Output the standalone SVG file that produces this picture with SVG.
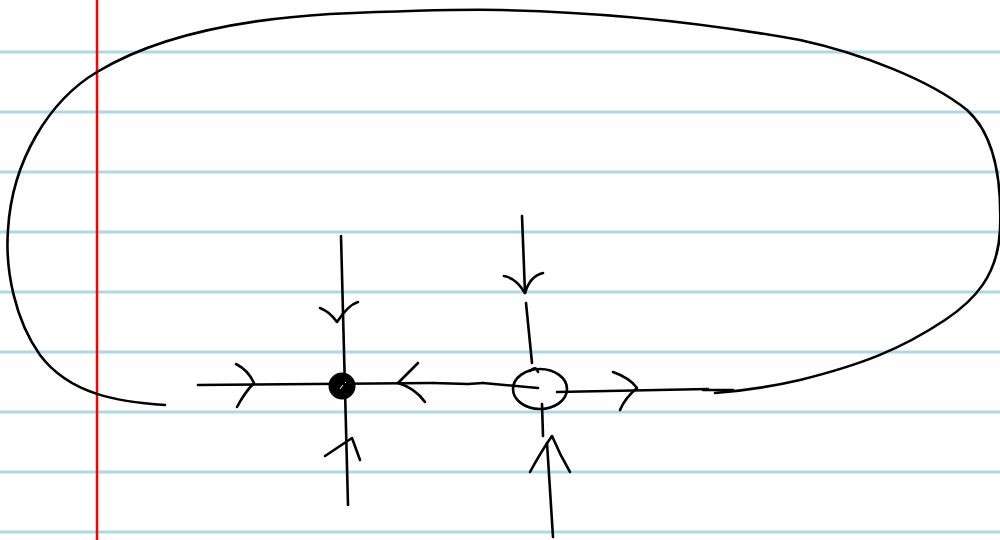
<svg xmlns="http://www.w3.org/2000/svg" width="1000" height="540" viewBox="0 0 1000 540">
<style>
.rule{stroke:#add8e6;stroke-width:3}
.ink{fill:none;stroke:#000;stroke-width:2.6;stroke-linecap:round;stroke-linejoin:round}
</style>
<g id="paper">
<rect width="1000" height="540" fill="#fff"/>
<line class="rule" x1="0" y1="52" x2="1000" y2="52"/>
<line class="rule" x1="0" y1="112" x2="1000" y2="112"/>
<line class="rule" x1="0" y1="172" x2="1000" y2="172"/>
<line class="rule" x1="0" y1="232" x2="1000" y2="232"/>
<line class="rule" x1="0" y1="292" x2="1000" y2="292"/>
<line class="rule" x1="0" y1="352" x2="1000" y2="352"/>
<line class="rule" x1="0" y1="412" x2="1000" y2="412"/>
<line class="rule" x1="0" y1="472" x2="1000" y2="472"/>
<line class="rule" x1="0" y1="532" x2="1000" y2="532"/>
<line x1="97" y1="0" x2="97" y2="540" stroke="#f00" stroke-width="2.5"/>
</g>
<g id="connectors">
<path class="ink" d="M165,405 C120,402 70,395 40,355 C15,320 5,270 8,230 C12,160 50,100 97,72 C150,40 230,20 330,14 C400,11 450,9 500,10 C600,12 700,22 800,40 C860,53 930,80 967,110 C995,135 1002,180 1000,230 C998,275 975,300 945,320 C900,350 860,365 800,380 C770,387 740,391 715,393"/>
<path class="ink" d="M198,385 L433,383"/>
<path class="ink" d="M433,383 L468,384 L483,383"/>
<path class="ink" d="M483,383 L538,388"/>
<path class="ink" d="M557,392 L708,389"/>
<path class="ink" d="M703,390 L733,390"/>
<path class="ink" d="M341,236 L348,505"/>
<path class="ink" d="M522,216 L525,293"/>
<path class="ink" d="M526,303 L532,363"/>
<path class="ink" d="M542,404 L543,436"/>
<path class="ink" d="M547,443 L553,537"/>
<path class="ink" d="M236,364 Q248,370 254,383 Q245,392 237,407"/>
<path class="ink" d="M418,363 Q406,375 398,383 Q415,388 425,402"/>
<path class="ink" d="M320,308 Q330,312 337,322 Q348,305 358,302"/>
<path class="ink" d="M325,456 L352,438 L360,460"/>
<path class="ink" d="M504,276 Q516,278 525,293 Q530,276 543,273"/>
<path class="ink" d="M530,472 Q542,450 552,436 Q560,455 570,472"/>
<path class="ink" d="M613,372 Q630,378 637,388 Q625,398 620,410"/>
</g>
<g id="node1">
<circle cx="342" cy="386" r="12.5" fill="#000" stroke="#000" stroke-width="2"/>
<path d="M340,389 l3,-4 M345,383 l1,-1" stroke="#fff" stroke-width="1" fill="none"/>
</g>
<g id="node2">
<ellipse class="ink" cx="540" cy="389" rx="27" ry="20"/>
<path class="ink" d="M530,371 Q536,365 538,372"/>
</g>
</svg>
